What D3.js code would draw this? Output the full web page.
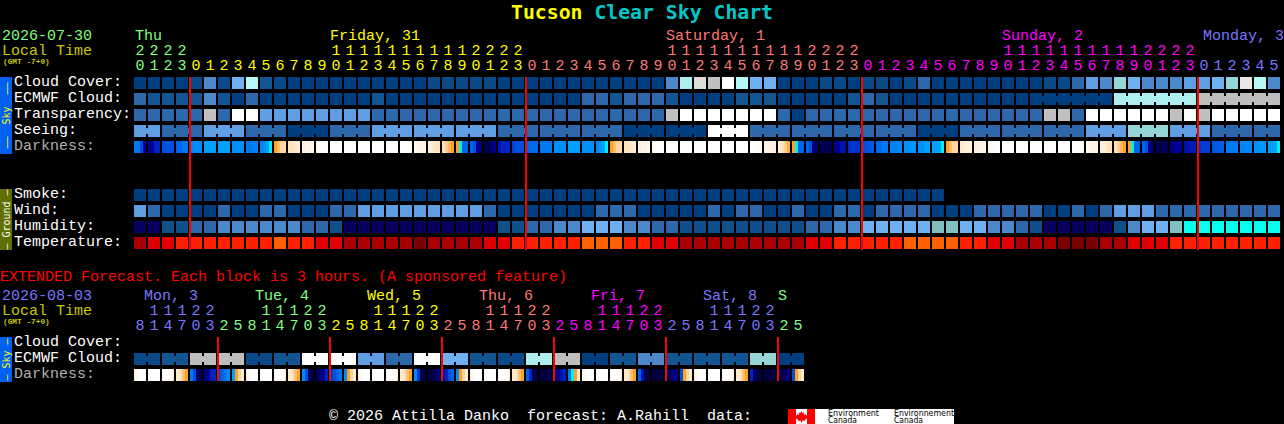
<!DOCTYPE html>
<html><head><meta charset="utf-8">
<script src="https://cdnjs.cloudflare.com/ajax/libs/d3/7.8.5/d3.min.js"></script>
<style>html,body{margin:0;padding:0;background:#000;overflow:hidden}svg{display:block}
text{font-family:"Liberation Mono",monospace;font-size:15px}</style>
</head><body><div id="c"></div>
<script>
const hours=[20,21,22,23,
0,1,2,3,4,5,6,7,8,9,10,11,12,13,14,15,16,17,18,19,20,21,22,23,
0,1,2,3,4,5,6,7,8,9,10,11,12,13,14,15,16,17,18,19,20,21,22,23,
0,1,2,3,4,5,6,7,8,9,10,11,12,13,14,15,16,17,18,19,20,21,22,23,
0,1,2,3,4,5];
const hourDay=[0,0,0,0,
1,1,1,1,1,1,1,1,1,1,1,1,1,1,1,1,1,1,1,1,1,1,1,1,
2,2,2,2,2,2,2,2,2,2,2,2,2,2,2,2,2,2,2,2,2,2,2,2,
3,3,3,3,3,3,3,3,3,3,3,3,3,3,3,3,3,3,3,3,3,3,3,3,
4,4,4,4,4,4];
const dayNames=["Thu","Friday, 31","Saturday, 1","Sunday, 2","Monday, 3"];
const dayStarts=[0,14,38,62,76.36];
const midnights=[4,28,52,76];
const cloud=[0,0,0,0,5,30,5,50,80,10,
5,0,0,0,0,0,0,0,0,0,
0,5,5,5,5,5,0,0,0,0,
0,0,0,0,0,0,0,0,30,70,
90,85,100,80,50,50,0,0,0,5,
5,0,5,5,0,5,20,0,0,0,
0,0,0,0,0,5,5,20,40,30,
60,50,30,30,30,40,40,50,60,95,
80,30];
const ecmwf=[20,10,10,10,10,30,10,0,20,0,
0,0,0,0,0,0,0,10,0,0,
0,0,0,0,0,0,0,0,0,0,
0,0,20,20,10,20,20,20,10,0,
0,0,0,10,10,10,0,0,0,0,
0,10,20,10,0,0,0,0,0,0,
0,0,0,0,0,0,0,0,0,0,
70,70,70,70,70,70,87,87,87,87,
87,87];
const transparency=[20,20,20,20,20,85,20,100,100,40,
40,40,40,40,40,40,40,20,20,20,
20,20,20,20,20,20,20,20,20,20,
20,20,20,20,20,20,20,20,85,100,
100,100,100,100,100,100,20,0,20,20,
20,20,20,20,20,20,20,20,20,20,
20,20,20,20,20,85,85,20,100,100,
100,100,100,100,85,100,85,100,100,100,
100,100];
const seeingBlockSizes=[2,3,3,3,3,3,3,3,3,3,3,3,3,3,3,3,3,3,3,3,3,3,3,3,3,3,3,2];
const seeingBlocks=[40,20,40,20,0,20,40,40,40,20,20,20,0,0,100,20,20,20,20,0,20,20,20,40,60,40,20,20];
const darkness=[
[7,7,8,10],[10,10,9,9],[8,8,8,8],[7.5,7.5,7,7],[6.7,6.5,6.5,6.5],[6,6,6,6],[6,6,6,6],[6.4,6.4,6.4,6.4],[7,7,6.8,6.8],[6.6,6.4,6.1,5],
[4,3,2.4,2.2],[2,2,1.6,1.4],[1.2,1,1,.6],[.5,.2,0,0],[0,0,0,0],[0,0,0,0],[0,0,0,0],[0,0,0,0],[0,0,0,0],[0,0,0,.3],
[.5,.9,1,1],[1.2,1.5,1.9,2],[2,2.6,3.2,4],[4,5,7.5,7.5],[7.5,8,10,11],[11.5,11.5,11,10],[9.5,9,9,9],[8.4,8,8,8],
[7.6,7.4,7.4,7.4],[7,7,7,7],[6.4,6.4,6.4,6.4],[6,6,6,6],[6.4,6.4,6.4,6.4],[6.6,6.2,6,5],[4,3,2.4,2.2],[2,2,1.6,1.4],[1.2,1,1,.6],[.5,.2,0,0],
[0,0,0,0],[0,0,0,0],[0,0,0,0],[0,0,0,0],[0,0,0,0],[0,0,0,0],[0,0,.2,.4],[.8,1,1,1.2],[1.4,2,2.6,3.6],[4,5,7.5,7.5],[7.5,8,10.5,11],[11.5,11.5,11.5,11.5],[10.3,10,9.5,9.5],[8.8,8.6,8.6,8.6],
[8,8,7.8,7.8],[7.4,7.4,7,7],[6.8,6.8,6.6,6.6],[6.4,6.4,6.2,6.2],[6.4,6.4,6,6],[6,6,6,5],[4,3,2.4,2.2],[1.6,1.4,1.2,1],[1.2,1,1,.8],[.6,.3,.1,0],
[0,0,0,0],[0,0,0,0],[0,0,0,0],[0,0,0,0],[0,0,0,0],[0,0,.2,.3],[.5,.8,1,1],[1.2,1.4,1.8,2],[2,2.6,3.2,4],[4,5,7.5,7.5],[7.5,8,10,11.5],[11.5,11.5,11.5,11.5],[10.5,10.3,10,10],[9.6,9.5,9.3,9.2],
[8.7,8.5,8.5,8.4],[7.9,7.8,7.7,7.6],[7,7,7,7],[6.7,6.7,6.6,6.6],[6.4,6.4,6.2,6.2],[6,6,6,5]];
const smoke=[0,0,0,0,0,0,0,0,0,0,0,0,0,0,0,0,0,0,0,0,0,0,0,0,0,0,0,0,0,0,0,0,0,0,0,0,0,0,0,0,0,0,0,0,0,0,0,0,0,0,0,0,0,0,0,0,0,0];
const wind=[14,8,4,4,4,4,8,4,4,8,
8,4,4,4,8,8,14,14,14,14,
14,14,14,14,14,8,4,4,4,4,
4,4,4,8,8,8,4,4,4,4,
4,8,4,8,8,4,4,8,4,4,
8,8,4,8,8,8,8,4,4,4,
8,8,8,8,8,4,4,8,4,8,
14,14,14,8,8,8,8,8,8,8,
8,8];
const humidity=[25,25,30,30,35,35,40,40,40,40,
40,40,35,35,30,25,25,25,25,25,
25,25,25,25,25,25,30,30,35,35,
40,40,45,45,45,40,40,35,35,30,
30,30,30,30,30,30,30,30,35,35,
40,40,45,45,45,45,45,50,50,45,
45,40,40,35,30,25,25,25,25,25,
30,40,45,45,50,55,55,55,55,55,
55,55];
const temperature=[68,73,73,77,77,77,77,77,77,77,
82,77,77,73,73,68,68,68,68,68,
64,68,68,68,68,73,73,77,77,77,
77,77,82,82,82,77,77,73,73,68,
68,68,68,68,68,68,68,68,73,73,
77,77,77,77,77,82,82,82,82,77,
77,73,73,68,68,68,64,64,64,68,
68,73,73,73,77,77,77,77,77,77,
77,77];
const extHours=[8,11,14,17,20,23,
2,5,8,11,14,17,20,23,
2,5,8,11,14,17,20,23,
2,5,8,11,14,17,20,23,
2,5,8,11,14,17,20,23,
2,5,8,11,14,17,20,23,
2,5];
const extDay=[4,4,4,4,4,4,0,0,0,0,0,0,0,0,1,1,1,1,1,1,1,1,2,2,2,2,2,2,2,2,3,3,3,3,3,3,3,3,4,4,4,4,4,4,4,4,0,0];
const extDayNames=["Mon, 3","Tue, 4","Wed, 5","Thu, 6","Fri, 7","Sat, 8","S"];
const extDayStarts=[.72,8.65,16.65,24.65,32.65,40.65,46];
const extDayColours=[4,0,1,2,3,4,0];
const extMidnights=[6,14,22,30,38,46];
const extEcmwf=[5,10,87,87,5,10,100,100,40,20,100,50,10,5,70,87,0,10,30,10,10,10,60,0];
const extDarkness=[
[1,.2,0,0],[0,0,0,0],[0,0,.3,1],[1.5,2,3,4],[7,8,11,11.5],[10.5,10,9,9],[8,7.5,7,6.5],[6,4,2.5,1.5],
[1,.2,0,0],[0,0,0,0],[0,0,.3,1],[1.5,2,3,4],[6.5,8,11.5,12],[11.5,10.5,10,9],[8.5,8,7.5,7],[6.5,4,2.5,1.5],
[1,.2,0,0],[0,0,0,0],[0,0,.3,1],[1.5,2,3,4],[6.5,8.5,12,12],[12,12,11,10.5],[9.5,9,8,7.5],[6.5,4,2.5,1.5],
[1,.2,0,0],[0,0,0,0],[0,0,.3,1],[1.5,2,3,4],[7.5,9,11.5,12],[12,12,12,11.5],[10.5,10,9.5,9],[7,5,4,1.5],
[1,.2,0,0],[0,0,0,0],[0,0,.3,1],[1.5,2,3,4],[7.5,9.5,11.5,12],[12,12,12,12],[11.5,11,10.5,10.5],[8,4,2.5,1.5],
[1,.2,0,0],[0,0,0,0],[0,0,.3,1],[1.5,2,3,4],[9,11,12,12],[12,12,12,12],[12,11.5,11,10.5],[8,4,2.5,1.5]];
const dayColours=["#80ff80","#ffff00","#ff7878","#ff00ff","#7878ff"];

const W=1284,H=424,CELL=12;
const x=d3.scaleLinear().domain([0,82]).range([134,1282]);
const sub=d3.scaleLinear().domain([0,4]).range([0,CELL]);
const skyColour=d3.scaleOrdinal()
 .domain([0,5,10,20,30,40,50,60,70,80,85,87,90,95,100])
 .range(["#003f7f","#0b4a88","#135592","#2d69aa","#4c89cb","#5f9ee3","#6fb0f0","#95d5d5","#aeeeee","#b4f8f8","#c0c0c0","#bebebe","#dcdcdc","#e8e8e8","#ffffff"]);
const windColour=d3.scaleThreshold().domain([6,12]).range(["#003f7f","#2d69aa","#5f9ee3"]);
const humidityColour=d3.scaleOrdinal().domain([25,30,35,40,45,50,55])
 .range(["#08005f","#0f4f8c","#2d69aa","#4c89cb","#6fb0f0","#82bebe","#08ffee"]);
const tempColour=d3.scaleOrdinal().domain([64,68,73,77,82])
 .range(["#7a0000","#a80000","#e00000","#ff2000","#ff6000"]);
const darkColour=d3.scaleLinear()
 .domain([0,1,2,3,4,5,6,7,8,9,10,11,12])
 .range(["#ffffff","#fff4e4","#ffe2bc","#ffc070","#ffa020","#00f0f0","#00a0ff","#0078f0","#0050e0","#0024c4","#000098","#000064","#000040"])
 .clamp(true);

const svg=d3.select("#c").append("svg").attr("width",W).attr("height",H).attr("viewBox",`0 0 ${W} ${H}`);
svg.append("rect").attr("width",W).attr("height",H).attr("fill","#000");

function label(s,px,py,fill,opt={}){
 const t=svg.append("text").attr("x",px).attr("y",py).attr("fill",fill).text(s);
 if(opt.size)t.style("font-size",opt.size+"px");
 if(opt.bold)t.attr("font-weight","bold");
 if(opt.anchor)t.attr("text-anchor",opt.anchor);
 if(opt.family)t.style("font-family",opt.family);
 if(opt.len)t.attr("textLength",opt.len).attr("lengthAdjust","spacingAndGlyphs");
 return t;
}
function row(values,y,colour,step=1,start=0){
 svg.append("g").selectAll("rect").data(values).join("rect")
  .attr("x",(d,i)=>x(start+i*step)).attr("y",y).attr("width",CELL).attr("height",CELL)
  .attr("fill",d=>colour(d)).attr("shape-rendering","crispEdges");
}
function links(pairs,y,colour){
 svg.append("g").selectAll("rect").data(pairs).join("rect")
  .attr("x",d=>x(d.i)+CELL).attr("y",y+3).attr("width",2).attr("height",6)
  .attr("fill",d=>colour(d.v)).attr("shape-rendering","crispEdges");
}
function darkRow(samples,y){
 const g=svg.append("g");
 samples.forEach((c,i)=>{
  g.append("g").selectAll("rect").data(c).join("rect")
   .attr("x",(d,k)=>x(i)+sub(k)).attr("y",y).attr("width",sub(1)).attr("height",CELL)
   .attr("fill",d=>darkColour(d)).attr("shape-rendering","crispEdges");
 });
}
function redLines(idx,y0,y1){
 svg.append("g").selectAll("rect").data(idx).join("rect")
  .attr("x",d=>x(d)-1).attr("y",y0).attr("width",2).attr("height",y1-y0)
  .attr("fill","#ff0000").attr("shape-rendering","crispEdges");
}
function hourLabels(hs,colourIdx,yTens,yOnes){
 hs.forEach((h,i)=>{
  const fill=dayColours[colourIdx[i]];
  if(h>=10)label(String(Math.floor(h/10)),x(i)+6,yTens,fill,{anchor:"middle"});
  label(String(h%10),x(i)+6,yOnes,fill,{anchor:"middle"});
 });
}
function sideBar(y0,y1,fill,txtFill,txt){
 svg.append("rect").attr("x",0).attr("y",y0).attr("width",12).attr("height",y1-y0).attr("fill",fill);
 svg.append("text").attr("transform",`translate(10,${(y0+y1)/2}) rotate(-90)`)
  .attr("text-anchor","middle").attr("fill",txtFill).style("font-family","'DejaVu Sans Mono',monospace").style("font-size","10px").style("white-space","pre").text(txt);
}

// title
const title=svg.append("text").attr("x",511).attr("y",19).attr("font-weight","bold").style("font-family","'DejaVu Sans Mono',monospace").style("font-size","19.8px").attr("fill","#ffff00");
title.append("tspan").text("Tucson ");
title.append("tspan").attr("fill","#00c8c8").text("Clear Sky Chart");

// main header
label("2026-07-30",2,40,"#80ff80");
label("Local Time",2,55,"#c8c800");
label("(GMT -7+0)",3,64,"#c8c800",{size:7.8,bold:true});
dayNames.forEach((n,i)=>label(n,x(dayStarts[i])+(i?0:1),40,dayColours[i]));
hourLabels(hours,hourDay,55,70);

// sky block
const names=[["Cloud Cover:",86,"#fff"],["ECMWF Cloud:",102,"#fff"],["Transparency:",118,"#fff"],["Seeing:",134,"#fff"],["Darkness:",150,"#b0b0b0"],
 ["Smoke:",198,"#fff"],["Wind:",214,"#fff"],["Humidity:",230,"#fff"],["Temperature:",246,"#fff"]];
names.forEach(n=>label(n[0],14,n[1],n[2]));
sideBar(77,154,"#0060f0","#ffff00","\u2013\u2013  Sky  \u2013\u2013");
sideBar(189,250,"#5f7000","#ffffff","\u2013 Ground \u2013");

row(cloud,77,skyColour);
row(ecmwf,93,skyColour);
links(ecmwf.map((v,i)=>({v,i})).filter(d=>d.i>=64&&d.i<81&&ecmwf[d.i+1]===d.v),93,skyColour);
row(transparency,109,skyColour);
const seeing=seeingBlocks.flatMap((v,b)=>d3.range(seeingBlockSizes[b]).map(()=>v));
row(seeing,125,skyColour);
let off=0;const seeLinks=[];
seeingBlockSizes.forEach((n,b)=>{for(let k=0;k<n-1;k++)seeLinks.push({i:off+k,v:seeingBlocks[b]});off+=n;});
links(seeLinks,125,skyColour);
darkRow(darkness,141);
row(smoke,189,skyColour);
row(wind,205,windColour);
row(humidity,221,humidityColour);
row(temperature,237,tempColour);
redLines(midnights,77,250);

// extended
label("EXTENDED Forecast. Each block is 3 hours. (A sponsored feature)",0,281,"#ff0000");
label("2026-08-03",2,300,"#7878ff");
label("Local Time",2,315,"#c8c800");
label("(GMT -7+0)",3,324,"#c8c800",{size:7.8,bold:true});
extDayNames.forEach((n,i)=>label(n,x(extDayStarts[i]),300,dayColours[extDayColours[i]]));
hourLabels(extHours,extDay,315,330);
label("Cloud Cover:",14,346,"#fff");
label("ECMWF Cloud:",14,362,"#fff");
label("Darkness:",14,378,"#b0b0b0");
sideBar(337,382,"#0060f0","#ffff00","\u2013 Sky \u2013");
const extCells=extEcmwf.flatMap(v=>[v,v]);
row(extCells,353,skyColour);
links(extEcmwf.map((v,p)=>({v,i:p*2})),353,skyColour);
darkRow(extDarkness,369);
redLines(extMidnights,337,381);

// footer
label("\u00a9 2026 Attilla Danko  forecast: A.Rahill  data:",329,420,"#fff").style("white-space","pre");
svg.append("rect").attr("x",788).attr("y",409).attr("width",166).attr("height",15).attr("fill","#fff");
svg.append("rect").attr("x",788).attr("y",409).attr("width",8).attr("height",15).attr("fill","#ff0000");
svg.append("rect").attr("x",807).attr("y",409).attr("width",8).attr("height",15).attr("fill","#ff0000");
svg.append("path").attr("d","M801.5 411l1.2 2 1.6-.6-.5 2.6 1.8-1 .6 1.4 1.3-.3-.7 2.3.7.6-2.8 1.9.3 1.1-2.9-.4v2h-1.2v-2l-2.9.4.3-1.1-2.8-1.9.7-.6-.7-2.3 1.3.3.6-1.4 1.8 1-.5-2.6 1.6.6z").attr("fill","#ff0000");
const envFont="'DejaVu Sans',sans-serif";
label("Environment",828,416,"#000",{size:8,family:envFont,len:51});
label("Environnement",894,416,"#000",{size:8,family:envFont,len:60});
label("Canada",828,423,"#000",{size:8,family:envFont,len:29});
label("Canada",894,423,"#000",{size:8,family:envFont,len:29});
</script></body></html>
